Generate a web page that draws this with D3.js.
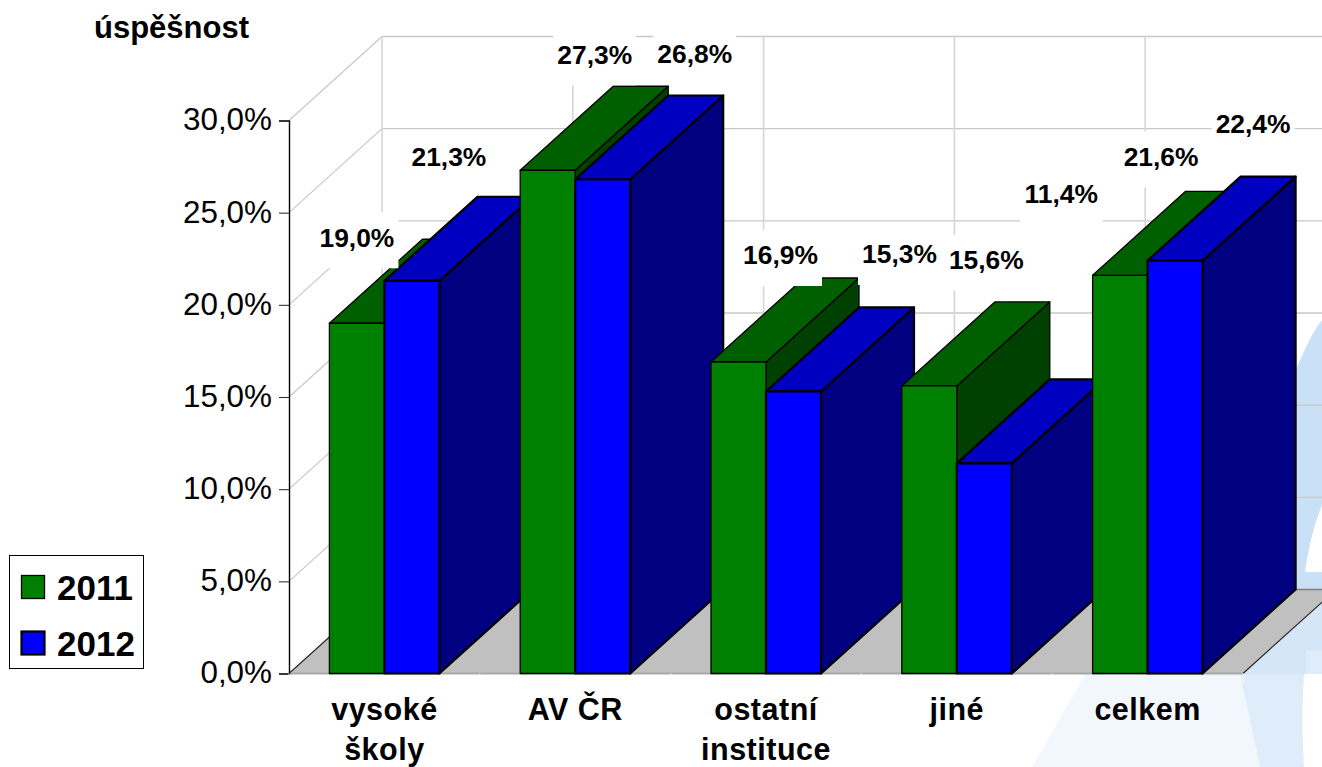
<!DOCTYPE html>
<html>
<head>
<meta charset="utf-8">
<script src="https://cdn.jsdelivr.net/npm/d3@7/dist/d3.min.js"></script>
<style>
html,body{margin:0;padding:0;background:#fff;overflow:hidden}
svg{display:block}
text{font-family:"Liberation Sans",Arial,sans-serif;fill:#000}
</style>
</head>
<body>
<svg id="c" width="1322" height="767"></svg>
<script>
// ---- data ----
const categories = [["vysoké","školy"],["AV ČR"],["ostatní","instituce"],["jiné"],["celkem"]];
const seriesNames = ["2011","2012"];
const values2011 = [19.0,27.3,16.9,15.6,21.6];
const values2012 = [21.3,26.8,15.3,11.4,22.4];
const yTicks = [0,5,10,15,20,25,30];
const yTitle = "úspěšnost";

// ---- layout (pixels), separate from the data ----
const plot = {left:289,right:1243,bottom:673.5,top:120.5};
const depth = {dx:93,dy:-84};
// label centre relative to the front-top-centre of its bar
const labelOffsets2011 = [[0,-86],[47,-116],[42,-107],[57,-126],[41,-119]];
const labelOffsets2012 = [[37,-124],[92,-126],[106,-137.5],[77,-270],[78,-137]];
const labelBox = {w:83,h:56,dy:3};
const palette = {
  "2011":{front:"#008000",top:"#006000",side:"#004000",sw:1.3},
  "2012":{front:"#0000ff",top:"#0000c0",side:"#000080",sw:2.2}
};
const watermark = [
  {fill:"#f2f7fd",d:"M1086,674 L1240,674 L1260,767 L1032,767 Z"},
  {fill:"#dfecfa",d:"M1240,674 L1322,674 L1322,650 L1306,650 Q1300,710 1304,767 L1260,767 Z"},
  {fill:"#c9e0f6",d:"M1200,370 L1296,370 Q1310,335 1322,320 L1322,505 Q1310,535 1305,572 L1322,572 L1322,595 L1200,595 Z"},
  {fill:"#d5e6f8",d:"M1200,595 L1322,595 L1322,650 L1306,650 L1306,674 L1200,674 Z"}
];

const svg = d3.select("#c");
const fmt = v => v.toFixed(1).replace(".",",")+"%";
const catKeys = categories.map(c=>c.join(" "));

const x0 = d3.scaleBand().domain(catKeys).range([plot.left,plot.right]);
const x1 = d3.scaleBand().domain(seriesNames).range([0,x0.bandwidth()]).paddingOuter(0.7345);
const y = d3.scaleLinear().domain([0,30]).range([plot.bottom,plot.top]);
const line = d3.line();

// watermark
svg.append("g").selectAll("path").data(watermark).join("path")
  .attr("d",d=>d.d).attr("fill",d=>d.fill);

// walls: grid
const grid = svg.append("g").attr("fill","none");
const wallX0 = plot.left+depth.dx, wallX1 = plot.right+depth.dx;
grid.selectAll("line.h").data(yTicks.filter(t=>t>0)).join("line").attr("class","h")
  .attr("x1",wallX0).attr("x2",wallX1)
  .attr("y1",d=>y(d)+depth.dy).attr("y2",d=>y(d)+depth.dy)
  .attr("stroke","#c8c8c8").attr("stroke-width",1.4);
grid.selectAll("line.d").data(yTicks.filter(t=>t>0)).join("line").attr("class","d")
  .attr("x1",plot.left).attr("x2",wallX0)
  .attr("y1",d=>y(d)).attr("y2",d=>y(d)+depth.dy)
  .attr("stroke","#c8c8c8").attr("stroke-width",1.2);
const bandEdges = d3.range(categories.length+1).map(i=>plot.left+i*x0.step());
grid.selectAll("line.v").data(bandEdges).join("line").attr("class","v")
  .attr("x1",d=>d+depth.dx).attr("x2",d=>d+depth.dx)
  .attr("y1",y(30)+depth.dy).attr("y2",y(0)+depth.dy)
  .attr("stroke","#d6d6d6").attr("stroke-width",1.6);

// floor
const fl = [[plot.left,y(0)],[plot.right,y(0)],[plot.right+depth.dx,y(0)+depth.dy],[plot.left+depth.dx,y(0)+depth.dy]];
svg.append("path").attr("d",line(fl)+"Z").attr("fill","#c0c0c0");
svg.append("line").attr("x1",fl[3][0]).attr("x2",fl[2][0]).attr("y1",fl[3][1]).attr("y2",fl[3][1]).attr("stroke","#808080").attr("stroke-width",1.4);
svg.append("line").attr("x1",fl[0][0]).attr("y1",fl[0][1]).attr("x2",fl[3][0]).attr("y2",fl[3][1]).attr("stroke","#222").attr("stroke-width",1.1);
svg.append("line").attr("x1",fl[1][0]).attr("y1",fl[1][1]).attr("x2",fl[2][0]).attr("y2",fl[2][1]).attr("stroke","#222").attr("stroke-width",1.1);
svg.append("line").attr("x1",plot.left).attr("x2",plot.right).attr("y1",y(0)).attr("y2",y(0)).attr("stroke","#a8a8a8").attr("stroke-width",2);

// bars, back-to-front within each category
const barData = catKeys.flatMap((c,i)=>[
  {c,s:"2011",v:values2011[i],off:labelOffsets2011[i]},
  {c,s:"2012",v:values2012[i],off:labelOffsets2012[i]}
]);
const bw = x1.bandwidth();
const bar = svg.append("g").selectAll("g").data(barData).join("g");
bar.each(function(d){
  const g = d3.select(this), p = palette[d.s];
  const L = x0(d.c)+x1(d.s), R = L+bw, T = y(d.v), B = y(0);
  const {dx,dy} = depth;
  g.append("path").attr("d",line([[R,B],[R+dx,B+dy],[R+dx,T+dy],[R,T]])+"Z").attr("fill",p.side);
  g.append("path").attr("d",line([[L,T],[L+dx,T+dy],[R+dx,T+dy],[R,T]])+"Z").attr("fill",p.top);
  g.append("rect").attr("x",L).attr("y",T).attr("width",bw).attr("height",B-T).attr("fill",p.front);
  g.selectAll("path,rect").attr("stroke","#000").attr("stroke-width",p.sw).attr("stroke-linejoin","round");
});

// y axis
const yAxis = svg.append("g").attr("transform",`translate(${plot.left},0)`)
  .call(d3.axisLeft(y).tickValues(yTicks).tickFormat(fmt).tickSize(10).tickPadding(7));
yAxis.select(".domain").attr("stroke","#000").attr("stroke-width",1.4);
yAxis.selectAll(".tick line").attr("stroke","#333").attr("stroke-width",1.1);
yAxis.selectAll("text").attr("font-size",31.4).attr("font-family",'"Liberation Sans",Arial,sans-serif').attr("fill","#000").attr("dy","0.3em");

// x axis
const xAxis = svg.append("g").attr("transform",`translate(0,${plot.bottom})`)
  .call(d3.axisBottom(x0).tickSize(0).tickFormat(""));
xAxis.select(".domain").remove();
xAxis.selectAll(".tick").each(function(d,i){
  d3.select(this).select("text").remove();
  const t = d3.select(this).append("text").attr("text-anchor","middle").attr("font-size",30.5)
    .attr("font-weight","bold").attr("style","letter-spacing:0.5px");
  categories[i].forEach((s,k)=>t.append("tspan").attr("x",0).attr("y",46+k*40.5).text(s));
});
svg.append("g").selectAll("line").data(bandEdges).join("line")
  .attr("x1",d=>d).attr("x2",d=>d).attr("y1",plot.bottom).attr("y2",plot.bottom+10)
  .attr("stroke","#fff").attr("stroke-width",1);

// value labels with white boxes on top
const lab = svg.append("g").selectAll("g").data(barData).join("g")
  .attr("transform",d=>`translate(${x0(d.c)+x1(d.s)+bw/2+d.off[0]},${y(d.v)+d.off[1]})`);
lab.append("rect").attr("x",-labelBox.w/2).attr("y",-labelBox.h/2+labelBox.dy)
  .attr("width",labelBox.w).attr("height",labelBox.h).attr("fill","#fff");
lab.append("text").attr("text-anchor","middle").attr("dy","0.36em")
  .attr("font-size",26.4).attr("font-weight","bold").text(d=>fmt(d.v));

// title
svg.append("text").attr("x",94).attr("y",38).attr("font-size",31).attr("font-weight","bold").text(yTitle);

// legend
const leg = svg.append("g");
leg.append("rect").attr("x",9.5).attr("y",555.5).attr("width",134).attr("height",113)
  .attr("fill","#fff").attr("stroke","#000").attr("stroke-width",1);
const legY = d3.scalePoint().domain(seriesNames).range([587,643]);
const item = leg.selectAll("g").data(seriesNames).join("g").attr("transform",d=>`translate(0,${legY(d)})`);
item.append("rect").attr("x",21.5).attr("y",-11.5).attr("width",23).attr("height",23)
  .attr("fill",d=>palette[d].front).attr("stroke","#000").attr("stroke-width",d=>palette[d].sw);
item.append("text").attr("x",57).attr("dy","0.36em").attr("font-size",35).attr("font-weight","bold").text(d=>d);
</script>
</body>
</html>
